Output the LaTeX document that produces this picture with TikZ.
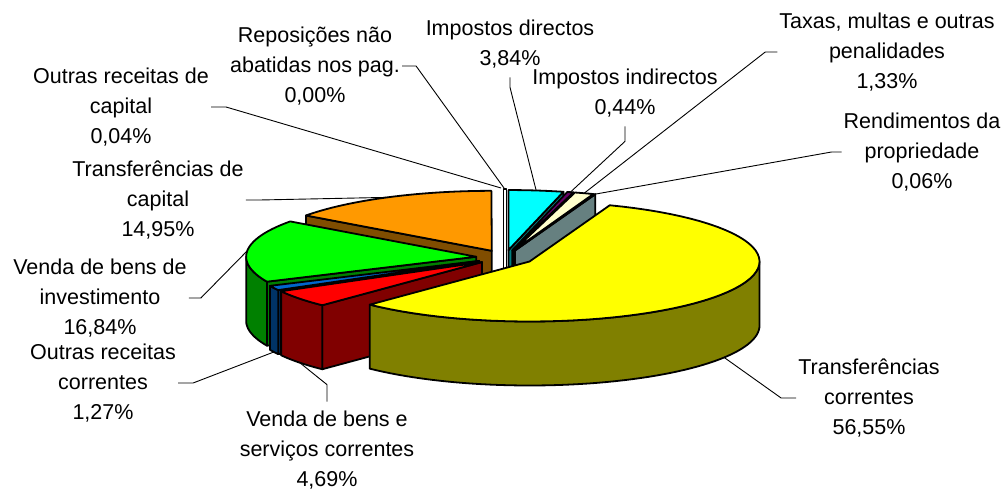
\documentclass[tikz,border=0pt]{standalone}
\usepackage{fontspec}
\setmainfont{Liberation Sans}
\definecolor{cCyan}{HTML}{00FFFF}\definecolor{cCyanS}{HTML}{008080}
\definecolor{cInd}{HTML}{660066}\definecolor{cIndS}{HTML}{330033}
\definecolor{cTax}{HTML}{FFFFCC}\definecolor{cTaxS}{HTML}{808066}
\definecolor{cRend}{HTML}{CCFFFF}\definecolor{cRendS}{HTML}{668080}
\definecolor{cYel}{HTML}{FFFF00}\definecolor{cYelS}{HTML}{808000}
\definecolor{cRed}{HTML}{FF0000}\definecolor{cRedS}{HTML}{800000}
\definecolor{cBlue}{HTML}{0066CC}\definecolor{cBlueS}{HTML}{003366}
\definecolor{cGreen}{HTML}{00FF00}\definecolor{cGreenS}{HTML}{008000}
\definecolor{cOra}{HTML}{FF9900}\definecolor{cOraS}{HTML}{804D00}
% #1 start angle, #2 end angle (clockwise from top), #3 top colour, #4 side colour, #5 name
\newcommand\pieslice[5]{%
  \pgfmathsetmacro\psA{#1}%
  \pgfmathsetmacro\psB{#2}%
  \pgfmathsetmacro\psM{(\psA+\psB)/2}%
  \pgfmathsetmacro\psX{505+29*sin(\psM)}%
  \pgfmathsetmacro\psY{257.5-7.5*cos(\psM)}%
  \pgfmathsetmacro\psSA{sin(\psA)}%
  \pgfmathsetmacro\psSB{sin(\psB)}%
  \pgfmathsetmacro\psOA{max(\psA,90)}%
  \pgfmathsetmacro\psOB{min(\psB,270)}%
  \ifdim\psSA pt<-0.0001pt
    \path[slice,fill=#4] (\psX,\psY) -- ({\psX+230*sin(\psA)},{\psY-60*cos(\psA)}) -- ++(0,64) -- (\psX,{\psY+64}) -- cycle;
  \fi
  \ifdim\psSB pt>0.0001pt
    \path[slice,fill=#4] (\psX,\psY) -- ({\psX+230*sin(\psB)},{\psY-60*cos(\psB)}) -- ++(0,64) -- (\psX,{\psY+64}) -- cycle;
  \fi
  \ifdim\psOA pt<\psOB pt
    \path[slice,fill=#4] plot[domain=\psOA:\psOB,samples=60,variable=\t] ({\psX+230*sin(\t)},{\psY-60*cos(\t)})
      -- plot[domain=\psOB:\psOA,samples=60,variable=\t] ({\psX+230*sin(\t)},{\psY-60*cos(\t)+64}) -- cycle;
  \fi
  \path[slice,fill=#3] (\psX,\psY) -- plot[domain=\psA:\psB,samples=60,variable=\t] ({\psX+230*sin(\t)},{\psY-60*cos(\t)}) -- cycle;
  \coordinate (#5-t) at ({\psX+230*sin(\psM)},{\psY-60*cos(\psM)});
  \coordinate (#5-b) at ({\psX+230*sin(\psM)},{\psY-60*cos(\psM)+64});
}
\begin{document}
\begin{tikzpicture}[x=1pt,y=-1pt,
  slice/.style={draw=black,line width=1.8pt,line join=round},
  lbl/.style={font=\fontsize{21.5}{30}\selectfont,align=center,inner xsep=2pt,inner ysep=9pt},
  lead/.style={draw=black,line width=0.9pt}]
\useasboundingbox (0,0) rectangle (1004,489);
% back slices
\pieslice{306.072}{359.892}{cOra}{cOraS}{tcap}
\path[slice,fill=white,line width=1.2pt] (503.3,189) rectangle (506.7,314);
\coordinate (ocapP) at (501,188);
\coordinate (repP) at (504,188);
\pieslice{0}{13.824}{cCyan}{cCyanS}{dir}
\pieslice{13.824}{15.408}{cInd}{cIndS}{ind}
\pieslice{15.408}{20.196}{cTax}{cTaxS}{tax}
\pieslice{20.196}{20.412}{cRend}{cRendS}{rend}
% front slices
\pieslice{245.448}{306.072}{cGreen}{cGreenS}{vbi}
\pieslice{240.876}{245.448}{cBlue}{cBlueS}{orc}
\pieslice{223.992}{240.876}{cRed}{cRedS}{vbs}
\pieslice{20.412}{223.992}{cYel}{cYelS}{tc}
% labels
\node[lbl] (repL) at (315,66) {Reposições não\\abatidas nos pag.\\0,00\%};
\node[lbl] (ocapL) at (121,107) {Outras receitas de\\capital\\0,04\%};
\node[lbl] (tcapL) at (158,200) {Transferências de\\capital\\14,95\%};
\node[lbl] (vbiL) at (100,298) {Venda de bens de\\investimento\\16,84\%};
\node[lbl] (orcL) at (103,383) {Outras receitas\\correntes\\1,27\%};
\node[lbl] (vbsL) at (327,450) {Venda de bens e\\serviços correntes\\4,69\%};
\node[lbl] (tcL) at (869,398) {Transferências\\correntes\\56,55\%};
\node[lbl] (rendL) at (922,152) {Rendimentos da\\propriedade\\0,06\%};
\node[lbl] (taxL) at (887,52) {Taxas, multas e outras\\penalidades\\1,33\%};
\node[lbl] (indL) at (625,93) {Impostos indirectos\\0,44\%};
\node[lbl] (dirL) at (510,44) {Impostos directos\\3,84\%};
% leaders
\draw[lead] (repL.east) -- ++(14,0) -- (repP);
\draw[lead] (ocapL.east) -- ++(15,0) -- (ocapP);
\draw[lead] (tcapL.east) -- ++(14,0) -- (tcap-t);
\draw[lead] (vbiL.east) -- ++(12,0) -- (vbi-t);
\draw[lead] (orcL.east) -- ++(15,0) -- (orc-b);
\draw[lead] (vbsL.north) -- ++(0,-17) -- (vbs-b);
\draw[lead] (tcL.west) -- ++(-15,0) -- (tc-b);
\draw[lead] (rendL.west) -- ++(-10,0) -- (rend-t);
\draw[lead] (taxL.west) -- ++(-12,0) -- (tax-t);
\draw[lead] (indL.south) -- ++(0,15) -- (ind-t);
\draw[lead] (dirL.south) -- ++(0,10) -- (dir-t);
\end{tikzpicture}
\end{document}
